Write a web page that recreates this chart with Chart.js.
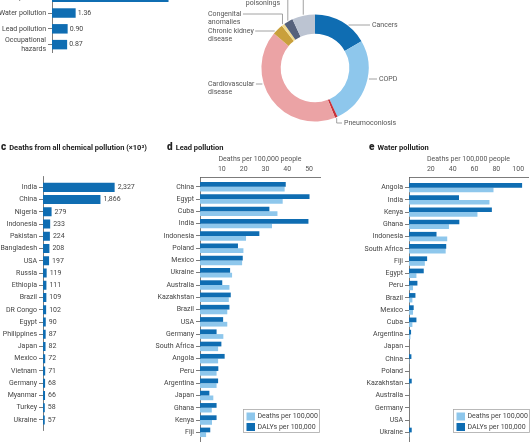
<!DOCTYPE html>
<html><head><meta charset="utf-8">
<script src="https://cdn.jsdelivr.net/npm/chart.js@4.4.0/dist/chart.umd.min.js"></script>
<style>
html,body{margin:0;padding:0;background:#fff;width:530px;height:442px;overflow:hidden;}
#wrap{position:relative;width:530px;height:442px;overflow:hidden;background:#fff;}
canvas{position:absolute;}
.title{position:absolute;font-family:Roboto,"Liberation Sans",sans-serif;font-weight:700;color:#222;white-space:nowrap;font-size:7.5px;line-height:10px;}
.title b{font-size:10px;margin-right:3px;font-weight:900;}
</style></head><body><div id="wrap">
<canvas id="cA" width="180" height="73" style="left:0;top:-20px"></canvas>
<canvas id="cB" width="250" height="160" style="left:180px;top:-20px"></canvas>
<canvas id="cC" width="172" height="256" style="left:0;top:176px"></canvas>
<canvas id="cD" width="200" height="300" style="left:130px;top:150px"></canvas>
<canvas id="cE" width="200" height="300" style="left:330px;top:150px"></canvas>
<div class="title" style="left:1px;top:142px"><b>c</b>Deaths from all chemical pollution (×10³)</div>
<div class="title" style="left:167px;top:142px"><b>d</b>Lead pollution</div>
<div class="title" style="left:369px;top:142px"><b>e</b>Water pollution</div>
</div>
<script>
// ---------------- data ----------------
const impactCategories = ["Air pollution", "Water pollution", "Lead pollution", ["Occupational", "hazards"]];
const impactDeaths = [6.70, 1.36, 0.90, 0.87];

const causeLabels = ["Cancers", "COPD", "Pneumoconiosis", "Cardiovascular disease", "Chronic kidney disease", "Congenital anomalies", "Unintentional poisonings", "Other"];
const causeShares = [16.7, 26.4, 0.8, 42.2, 3.3, 0.9, 2.8, 6.9];
const causeLabelLines = [["Cancers"], ["COPD"], ["Pneumoconiosis"], ["Cardiovascular", "disease"], ["Chronic kidney", "disease"], ["Congenital", "anomalies"], ["Unintentional", "poisonings"], ["Other"]];

const chemCountries = ["India", "China", "Nigeria", "Indonesia", "Pakistan", "Bangladesh", "USA", "Russia", "Ethiopia", "Brazil", "DR Congo", "Egypt", "Philippines", "Japan", "Mexico", "Vietnam", "Germany", "Myanmar", "Turkey", "Ukraine"];
const chemDeaths = [2327, 1866, 279, 233, 224, 208, 197, 119, 111, 109, 102, 90, 87, 82, 72, 71, 68, 66, 58, 57];

const leadCountries = ["China", "Egypt", "Cuba", "India", "Indonesia", "Poland", "Mexico", "Ukraine", "Australia", "Kazakhstan", "Brazil", "USA", "Germany", "South Africa", "Angola", "Peru", "Argentina", "Japan", "Ghana", "Kenya", "Fiji"];
const leadDalys = [39.3, 50.2, 31.8, 49.7, 27.2, 17.4, 19.6, 13.8, 10.2, 14.1, 13.5, 10.6, 7.6, 9.8, 11.3, 8.4, 8.3, 4.3, 7.6, 7.6, 4.7];
const leadDeaths = [38.8, 37.9, 35.5, 33.0, 21.1, 19.9, 19.3, 14.7, 13.5, 13.2, 12.5, 12.5, 10.7, 8.3, 8.3, 7.6, 7.6, 6.1, 5.4, 5.5, 2.8];

const waterCountries = ["Angola", "India", "Kenya", "Ghana", "Indonesia", "South Africa", "Fiji", "Egypt", "Peru", "Brazil", "Mexico", "Cuba", "Argentina", "Japan", "China", "Poland", "Kazakhstan", "Australia", "Germany", "USA", "Ukraine"];
const waterDalys = [103.6, 45.8, 75.9, 46.1, 25.2, 34.1, 16.6, 13.5, 7.7, 5.9, 4.3, 6.8, 1.9, 0, 2.2, 0, 2.5, 0, 0, 0, 2.5];
const waterDeaths = [77.4, 73.7, 62.7, 36.6, 35.0, 33.6, 14.5, 6.8, 3.7, 3.1, 3.7, 3.1, 1.3, 0, 0.3, 0, 0.3, 0, 0, 0, 0.3];

const leadTicks = [10, 20, 30, 40, 50];
const waterTicks = [20, 40, 60, 80, 100];
const seriesNames = ["DALYs per 100,000", "Deaths per 100,000"];

// ---------------- styles ----------------
Chart.defaults.font.family = 'Roboto, "Liberation Sans", sans-serif';
Chart.defaults.font.size = 7;
Chart.defaults.color = '#444';
Chart.defaults.animation = false;
const AXIS = '#5a5a5a';
const DARK = '#0f6db2', LIGHT = '#8ec7ec';
const causeColors = ['#0f6db2', '#8ec7ec', '#c8323a', '#eba3a5', '#c9a03c', '#f2db8e', '#56627c', '#bcc4d2'];

function pts(arr) { return arr.map((v, i) => ({ x: v, y: i })); }

function yIndexScale(labels, min, max, width) {
  return {
    type: 'linear', position: 'left', reverse: true, bounds: 'data', offset: false, min: min, max: max,
    afterFit: s => { s.width = width; s.paddingTop = 0; s.paddingBottom = 0; },
    afterBuildTicks: s => { s.ticks = labels.map((_, i) => ({ value: i })); },
    ticks: { autoSkip: false, padding: 2, color: '#444', callback: v => labels[v] },
    grid: { display: true, offset: false, drawOnChartArea: false, drawTicks: true, tickLength: 4, color: AXIS, lineWidth: 0.8 },
    border: { display: true, color: AXIS, width: 0.8 }
  };
}

const valueLabelPlugin = {
  id: 'valueLabels',
  afterDatasetsDraw(chart, args, opts) {
    const ctx = chart.ctx; const meta = chart.getDatasetMeta(0); const ds = chart.data.datasets[0];
    ctx.save(); ctx.font = '7px Roboto, "Liberation Sans", sans-serif'; ctx.fillStyle = '#444';
    ctx.textBaseline = 'middle'; ctx.textAlign = 'left';
    meta.data.forEach((bar, i) => { ctx.fillText(opts.format(ds.data[i].x), bar.x + opts.gap, bar.y); });
    ctx.restore();
  }
};

const boxLegendPlugin = {
  id: 'boxLegend',
  afterDraw(chart, args, opts) {
    const ctx = chart.ctx, ca = chart.chartArea, ds = chart.data.datasets;
    const right = ca.right + opts.dx, left = right - opts.width, top = ca.top + opts.offsetY, h = 23;
    ctx.save();
    ctx.strokeStyle = '#a8a8a8'; ctx.lineWidth = 0.8;
    ctx.strokeRect(left + 0.5, top + 0.5, opts.width - 1, h);
    ctx.font = '7px Roboto, "Liberation Sans", sans-serif'; ctx.textBaseline = 'middle'; ctx.textAlign = 'left';
    [1, 0].forEach((di, k) => {
      const y = top + 3.5 + k * 10.5;
      ctx.fillStyle = ds[di].backgroundColor; ctx.fillRect(left + 3.5, y, 8.5, 8);
      ctx.fillStyle = '#444'; ctx.fillText(ds[di].label, left + 14.5, y + 4.2);
    });
    ctx.restore();
  }
};

const donutLabelPlugin = {
  id: 'donutLabels',
  afterDraw(chart, args, opts) {
    const ctx = chart.ctx; const meta = chart.getDatasetMeta(0);
    ctx.save();
    ctx.font = '7px Roboto, "Liberation Sans", sans-serif';
    ctx.textBaseline = 'middle';
    ctx.lineWidth = 0.8; ctx.strokeStyle = '#8a8a8a'; ctx.fillStyle = '#555';
    meta.data.forEach((arc, i) => {
      const p = arc.getProps(['x', 'y', 'startAngle', 'endAngle', 'outerRadius'], true);
      const L = opts.place[i]; const lines = causeLabelLines[i];
      const tx = p.x + L.dx, ty = p.y + L.dy, side = L.dx > 0 ? 1 : -1;
      ctx.textAlign = L.align;
      lines.forEach((ln, k) => ctx.fillText(ln, tx, ty + k * 8));
      let edge;
      if (L.align === 'left') edge = side > 0 ? tx - 2 : tx + ctx.measureText(lines[0]).width + 1.5;
      else edge = tx + 1.5;
      ctx.beginPath();
      if (L.mode === 'h') {
        const d = ty - p.y;
        const ex = p.x + side * (Math.sqrt(Math.max(p.outerRadius * p.outerRadius - d * d, 0)) + 1.5);
        ctx.moveTo(ex, ty); ctx.lineTo(edge, ty);
      } else {
        const mid = (p.startAngle + p.endAngle) / 2;
        const ax = p.x + Math.cos(mid) * (p.outerRadius + 1), ay = p.y + Math.sin(mid) * (p.outerRadius + 1);
        ctx.moveTo(ax, ay); ctx.lineTo(ax, ty); ctx.lineTo(edge, ty);
      }
      ctx.stroke();
    });
    ctx.restore();
  }
};

const noTip = { legend: { display: false }, tooltip: { enabled: false } };

// ---------------- panel a (top-left bars) ----------------
new Chart(document.getElementById('cA'), {
  type: 'bar',
  data: { datasets: [{ data: pts(impactDeaths), backgroundColor: DARK, categoryPercentage: 0.6, barPercentage: 1 }] },
  options: {
    indexAxis: 'y', responsive: false, animation: false, layout: { padding: 0 },
    plugins: Object.assign({}, noTip, { valueLabels: { gap: 2, format: v => v.toFixed(2) } }),
    scales: { x: { type: 'linear', bounds: 'data', min: 0, max: 7.36, display: false }, y: yIndexScale(impactCategories, -1.09, 3.53, 52) }
  },
  plugins: [valueLabelPlugin]
});

// ---------------- panel b (donut) ----------------
new Chart(document.getElementById('cB'), {
  type: 'doughnut',
  data: { labels: causeLabels, datasets: [{ data: causeShares, backgroundColor: causeColors, borderWidth: 0, hoverOffset: 0 }] },
  options: {
    responsive: false, animation: false, cutout: '64%',
    layout: { padding: { left: 81.4, right: 61.4, top: 34.4, bottom: 18.4 } },
    plugins: Object.assign({}, noTip, { donutLabels: { place: [
      { dx: 57, dy: -43, align: 'left', mode: 'h' },
      { dx: 64, dy: 11, align: 'left', mode: 'h' },
      { dx: 29, dy: 55, align: 'left', mode: 'v' },
      { dx: -107, dy: 16, align: 'left', mode: 'h' },
      { dx: -107, dy: -37, align: 'left', mode: 'h' },
      { dx: -107, dy: -54, align: 'left', mode: 'v' },
      { dx: -35, dy: -73, align: 'right', mode: 'v' },
      { dx: -15, dy: -86, align: 'right', mode: 'v' }
    ] } })
  },
  plugins: [donutLabelPlugin]
});

// ---------------- panel c ----------------
new Chart(document.getElementById('cC'), {
  type: 'bar',
  data: { datasets: [{ data: pts(chemDeaths), backgroundColor: DARK, categoryPercentage: 0.74, barPercentage: 1 }] },
  options: {
    indexAxis: 'y', responsive: false, animation: false, layout: { padding: { top: 0.7, bottom: 2, left: 0, right: 0 } },
    plugins: Object.assign({}, noTip, { valueLabels: { gap: 3, format: v => v.toLocaleString('en-US') } }),
    scales: { x: { type: 'linear', bounds: 'data', min: 0, max: 4190, display: false }, y: yIndexScale(chemCountries, -0.87, 19.82, 43) }
  },
  plugins: [valueLabelPlugin]
});

// ---------------- panels d, e ----------------
function pairChart(id, countries, dalys, deaths, xmax, tickList, ymin, ywidth, padRight, legendDx) {
  return new Chart(document.getElementById(id), {
    type: 'bar',
    data: { datasets: [
      { label: seriesNames[0], data: pts(dalys), backgroundColor: DARK, categoryPercentage: 0.77, barPercentage: 1 },
      { label: seriesNames[1], data: pts(deaths), backgroundColor: LIGHT, categoryPercentage: 0.77, barPercentage: 1 }
    ] },
    options: {
      indexAxis: 'y', responsive: false, animation: false,
      layout: { padding: { left: 0, right: padRight, top: 0, bottom: 0 } },
      plugins: Object.assign({}, noTip, { boxLegend: { width: 77, offsetY: 232, dx: legendDx } }),
      scales: {
        x: { type: 'linear', position: 'top', bounds: 'data', min: 0, max: xmax, afterFit: s => { s.height = 27; },
          ticks: { stepSize: tickList[1] - tickList[0], padding: 4, color: '#555',
            callback: v => tickList.includes(v) ? String(v) : undefined },
          grid: { display: false, drawTicks: false }, border: { display: true, color: AXIS, width: 0.8 },
          title: { display: true, text: 'Deaths per 100,000 people', color: '#555', padding: { top: 5, bottom: 0 }, font: { size: 7 } } },
        y: yIndexScale(countries, ymin, 21.44, ywidth)
      }
    },
    plugins: [boxLegendPlugin]
  });
}
pairChart('cD', leadCountries, leadDalys, leadDeaths, 55, leadTicks, -0.80, 70, 10, 0);
pairChart('cE', waterCountries, waterDalys, waterDeaths, 109, waterTicks, -0.87, 79, 2, 2);
</script>
</body></html>
